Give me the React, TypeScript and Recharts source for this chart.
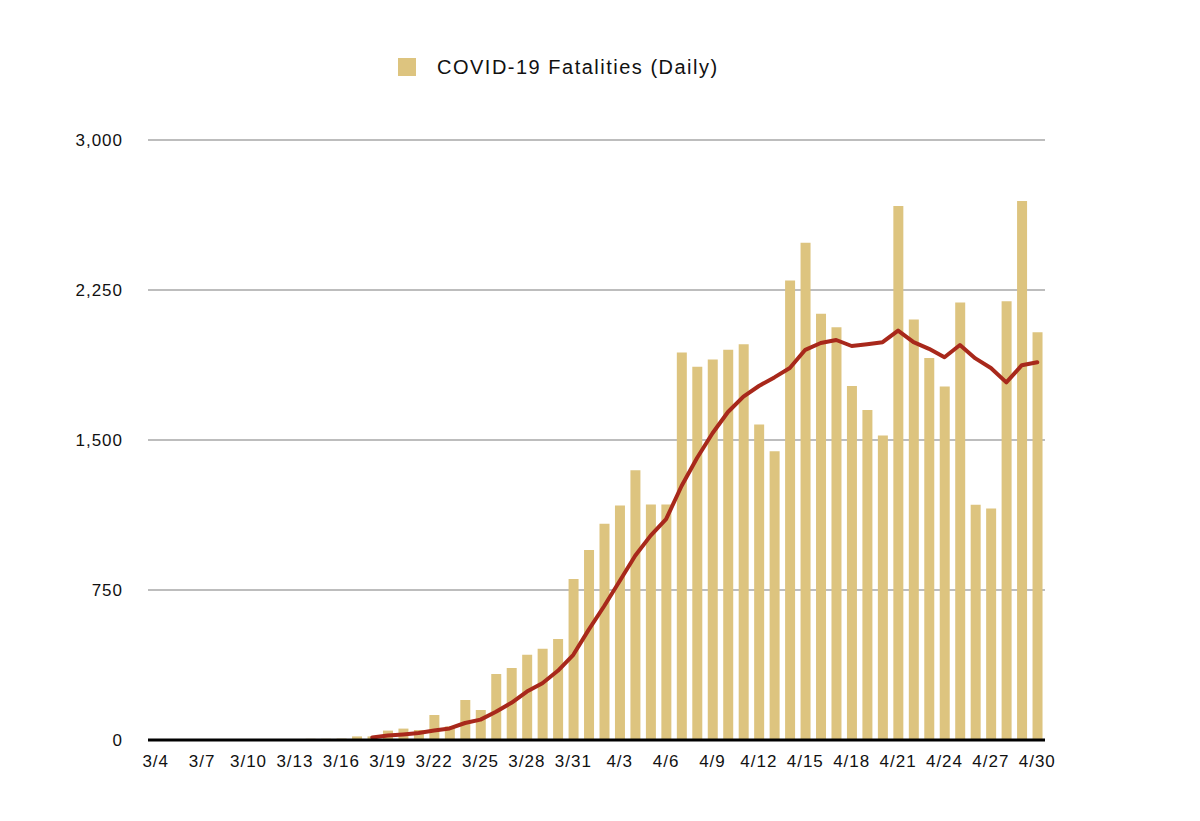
import React from "react";
import { ComposedChart, Bar, Line, XAxis, YAxis, CartesianGrid } from "recharts";

const dates = [
  "3/4","3/5","3/6","3/7","3/8","3/9","3/10","3/11","3/12","3/13","3/14","3/15","3/16","3/17",
  "3/18","3/19","3/20","3/21","3/22","3/23","3/24","3/25","3/26","3/27","3/28","3/29","3/30","3/31",
  "4/1","4/2","4/3","4/4","4/5","4/6","4/7","4/8","4/9","4/10","4/11","4/12","4/13","4/14","4/15",
  "4/16","4/17","4/18","4/19","4/20","4/21","4/22","4/23","4/24","4/25","4/26","4/27","4/28","4/29","4/30",
];

const dailyFatalities = [
  0, 1, 2, 1, 2, 3, 2, 3, 4, 4, 6, 6, 7, 18,
  18, 47, 57, 50, 125, 68, 200, 150, 330, 360, 426, 456, 505, 805,
  950, 1081, 1173, 1349, 1178, 1178, 1937, 1866, 1903, 1951, 1979, 1577, 1444, 2298, 2486,
  2131, 2064, 1770, 1650, 1523, 2670, 2102, 1910, 1767, 2188, 1176, 1158, 2194, 2695, 2039,
];

const movingAverage: (number | null)[] = [
  null, null, null, null, null, null, null, null, null, null, null, null, null, null,
  13, 22, 28, 35, 47, 58, 85, 102, 141, 186, 242, 284, 346, 426,
  552, 670, 795, 921, 1022, 1104, 1270, 1410, 1534, 1640, 1717, 1770, 1813, 1860, 1951,
  1985, 2000, 1970, 1979, 1989, 2047, 1989, 1956, 1914, 1975, 1908, 1860, 1788, 1874, 1889,
];

const yTicks = [0, 750, 1500, 2250, 3000];
const legendLabel = "COVID-19 Fatalities (Daily)";

const data = dates.map((d, i) => ({ date: d, daily: dailyFatalities[i], avg: movingAverage[i] }));

const FONT = "'Liberation Sans', Arial, Helvetica, sans-serif";
const BAR_COLOR = "#DDC47F";
const LINE_COLOR = "#A8281B";

export default function App() {
  return (
    <div style={{ position: "absolute", left: 0, top: 0, width: 1200, height: 821, background: "#fff" }}>
      <div
        style={{
          position: "absolute",
          top: 57,
          left: 398,
          display: "flex",
          alignItems: "center",
          fontFamily: FONT,
          height: 20,
        }}
      >
        <div style={{ width: 18, height: 18, background: BAR_COLOR }} />
        <span style={{ marginLeft: 21, fontSize: 20, letterSpacing: 1.5, color: "#111", whiteSpace: "nowrap" }}>
          {legendLabel}
        </span>
      </div>
      <ComposedChart
        width={1200}
        height={821}
        data={data}
        margin={{ top: 140, right: 155, bottom: 41, left: 88 }}
      >
        <CartesianGrid vertical={false} stroke="#bdbdbd" strokeWidth={2} />
        <XAxis
          dataKey="date"
          interval={2}
          tickLine={false}
          tickSize={0}
          tickMargin={15}
          height={40}
          axisLine={{ stroke: "#000", strokeWidth: 3 }}
          tick={{ fill: "#111", fontSize: 17, fontFamily: FONT, letterSpacing: 1 }}
        />
        <YAxis
          domain={[0, 3000]}
          ticks={yTicks}
          width={60}
          axisLine={false}
          tickLine={false}
          tickSize={0}
          tickMargin={25}
          tickFormatter={(v: number) => v.toLocaleString("en-US")}
          tick={{ fill: "#111", fontSize: 17, fontFamily: FONT, letterSpacing: 1 }}
        />
        <Bar dataKey="daily" name={legendLabel} fill={BAR_COLOR} barSize={10} isAnimationActive={false} />
        <Line
          dataKey="avg"
          type="linear"
          stroke={LINE_COLOR}
          strokeWidth={4}
          strokeLinejoin="round"
          strokeLinecap="round"
          dot={false}
          activeDot={false}
          legendType="none"
          connectNulls={false}
          isAnimationActive={false}
        />
      </ComposedChart>
    </div>
  );
}
